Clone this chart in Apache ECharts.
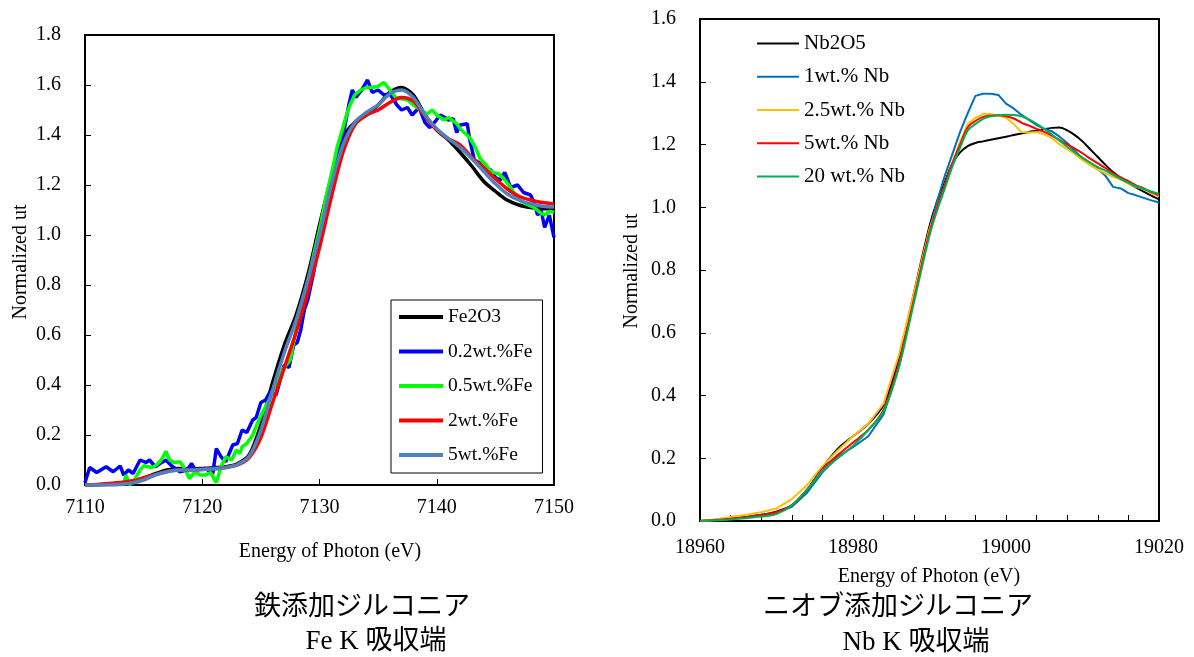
<!DOCTYPE html>
<html>
<head>
<meta charset="utf-8">
<script src="https://cdn.jsdelivr.net/npm/echarts/dist/echarts.min.js"></script>
<style>
  html, body { margin: 0; padding: 0; background: #fff; }
  #main { width: 1194px; height: 657px; }
</style>
</head>
<body>
<div id="main"></div>
<script>
// Fe K edge (left)
var feE = [7110, 7111, 7112, 7113, 7114, 7115, 7116, 7117, 7118, 7119,
  7120, 7121, 7122, 7123, 7124, 7125, 7126, 7127, 7128, 7129,
  7130, 7131, 7132, 7133, 7134, 7135, 7136, 7137, 7138, 7139,
  7140, 7141, 7142, 7143, 7144, 7145, 7146, 7147, 7148, 7149, 7150]
var fe2o3 = [0.0, 0.0, 0.003, 0.008, 0.015, 0.028, 0.045, 0.06, 0.066, 0.064,
  0.066, 0.069, 0.073, 0.085, 0.12, 0.24, 0.41, 0.56, 0.68, 0.84,
  1.04, 1.23, 1.39, 1.45, 1.48, 1.52, 1.57, 1.59, 1.56, 1.48,
  1.42, 1.38, 1.33, 1.275, 1.215, 1.175, 1.14, 1.12, 1.11, 1.105, 1.105]
var fe2wt = [0.0, 0.002, 0.006, 0.01, 0.016, 0.028, 0.042, 0.054, 0.06, 0.06,
  0.062, 0.065, 0.07, 0.08, 0.11, 0.19, 0.33, 0.47, 0.61, 0.77,
  0.95, 1.15, 1.33, 1.44, 1.48, 1.5, 1.53, 1.55, 1.535, 1.475,
  1.42, 1.385, 1.36, 1.31, 1.27, 1.225, 1.185, 1.155, 1.14, 1.13, 1.125]
var fe5wt = [0.0, 0.0, 0.0, 0.002, 0.008, 0.02, 0.04, 0.053, 0.06, 0.06,
  0.062, 0.065, 0.07, 0.082, 0.115, 0.22, 0.38, 0.53, 0.66, 0.82,
  1.0, 1.2, 1.36, 1.45, 1.49, 1.52, 1.565, 1.58, 1.55, 1.48,
  1.425, 1.385, 1.35, 1.305, 1.255, 1.205, 1.165, 1.14, 1.125, 1.115, 1.112]
// noisy spectra as [energy, value]
var fe02wt = [[7110.0, 0.01], [7110.4, 0.07], [7111.0, 0.05], [7111.8, 0.073], [7112.4, 0.053],
  [7113.0, 0.076], [7113.3, 0.04], [7113.7, 0.06], [7114.1, 0.046], [7114.7, 0.10],
  [7115.2, 0.09], [7115.5, 0.10], [7116.0, 0.073], [7116.4, 0.086], [7116.9, 0.10],
  [7117.4, 0.076], [7118.1, 0.053], [7118.7, 0.06], [7119.1, 0.086], [7119.4, 0.06],
  [7120.3, 0.066], [7120.9, 0.046], [7121.2, 0.146], [7121.6, 0.113], [7122.0, 0.093],
  [7122.6, 0.16], [7123.0, 0.166], [7123.4, 0.22], [7123.8, 0.21], [7124.3, 0.26],
  [7124.6, 0.27], [7125.0, 0.33], [7125.4, 0.34], [7125.8, 0.375], [7126.3, 0.36],
  [7126.7, 0.43], [7127.0, 0.48], [7127.4, 0.47], [7127.8, 0.56], [7128.1, 0.57],
  [7128.4, 0.62], [7128.7, 0.70], [7129.0, 0.74], [7129.5, 0.85], [7130.1, 1.01],
  [7130.5, 1.09], [7131.0, 1.17], [7131.3, 1.25], [7131.6, 1.33], [7132.1, 1.42],
  [7132.5, 1.52], [7132.8, 1.58], [7133.1, 1.55], [7133.6, 1.58], [7134.1, 1.62],
  [7134.5, 1.57], [7135.0, 1.58], [7135.5, 1.56], [7136.0, 1.565], [7136.6, 1.52],
  [7137.0, 1.50], [7137.5, 1.51], [7137.9, 1.48], [7138.5, 1.51], [7139.0, 1.45],
  [7139.4, 1.43], [7139.8, 1.45], [7140.3, 1.48], [7140.7, 1.47], [7141.0, 1.46],
  [7141.4, 1.465], [7141.7, 1.41], [7142.0, 1.44], [7142.6, 1.445], [7142.8, 1.385],
  [7143.2, 1.30], [7143.6, 1.29], [7144.0, 1.27], [7144.6, 1.26], [7145.0, 1.23],
  [7145.4, 1.22], [7145.8, 1.25], [7146.3, 1.19], [7146.9, 1.20], [7147.4, 1.17],
  [7148.0, 1.16], [7148.3, 1.13], [7148.6, 1.08], [7148.9, 1.10], [7149.2, 1.03],
  [7149.6, 1.08], [7150.0, 0.99]]
var fe05wt = [[7110.7, 0.0], [7111.5, 0.002], [7112.5, 0.003], [7113.3, 0.004], [7113.5, 0.04],
  [7113.8, 0.0], [7114.2, 0.02], [7114.7, 0.06], [7115.0, 0.077], [7115.7, 0.07],
  [7116.1, 0.08], [7116.5, 0.10], [7116.9, 0.135], [7117.2, 0.10], [7117.6, 0.09],
  [7118.1, 0.093], [7118.5, 0.066], [7118.9, 0.026], [7119.4, 0.053], [7119.8, 0.04],
  [7120.3, 0.04], [7120.7, 0.05], [7121.2, 0.01], [7121.6, 0.073], [7122.0, 0.113],
  [7122.5, 0.10], [7122.9, 0.14], [7123.2, 0.126], [7123.4, 0.153], [7123.8, 0.166],
  [7124.3, 0.20], [7124.7, 0.246], [7125.1, 0.286], [7125.7, 0.34], [7126.5, 0.43],
  [7127.0, 0.47], [7127.5, 0.50], [7128.0, 0.62], [7128.5, 0.70], [7129.0, 0.81],
  [7129.5, 0.92], [7130.0, 1.02], [7130.5, 1.14], [7131.0, 1.24], [7131.5, 1.35],
  [7132.0, 1.43], [7132.3, 1.48], [7132.6, 1.52], [7133.0, 1.56], [7133.5, 1.58],
  [7134.0, 1.59], [7134.5, 1.59], [7135.0, 1.595], [7135.5, 1.61], [7136.0, 1.58],
  [7136.5, 1.55], [7137.0, 1.545], [7137.5, 1.54], [7138.0, 1.52], [7138.5, 1.505],
  [7139.0, 1.49], [7139.2, 1.485], [7139.6, 1.50], [7140.0, 1.48], [7140.6, 1.46],
  [7141.0, 1.47], [7141.3, 1.46], [7141.7, 1.445], [7142.1, 1.42], [7142.8, 1.39],
  [7143.3, 1.35], [7143.7, 1.305], [7144.2, 1.28], [7144.5, 1.26], [7144.8, 1.25],
  [7145.3, 1.245], [7145.8, 1.22], [7146.3, 1.19], [7146.8, 1.15], [7147.2, 1.135],
  [7147.8, 1.12], [7148.3, 1.11], [7148.8, 1.09], [7149.2, 1.08], [7149.6, 1.095],
  [7150.0, 1.09]]

// Nb K edge (right)
var nbE = [18960, 18962, 18964, 18966, 18968, 18970, 18972, 18974, 18976, 18978,
  18980, 18982, 18984, 18986, 18988,
  18990, 18991, 18992, 18993, 18994, 18995, 18996, 18997, 18998, 18999,
  19000, 19001, 19002, 19003, 19004, 19005, 19006, 19007, 19008, 19009,
  19010, 19011, 19012, 19013, 19014, 19015, 19016, 19017, 19018, 19019, 19020]
var nb2o5 = [0.0, 0.004, 0.008, 0.013, 0.02, 0.03, 0.05, 0.1, 0.17, 0.23,
  0.27, 0.31, 0.37, 0.52, 0.73,
  0.94, 1.02, 1.08, 1.14, 1.175, 1.195, 1.205, 1.21, 1.215, 1.22,
  1.225, 1.23, 1.235, 1.24, 1.244, 1.249, 1.253, 1.254, 1.245, 1.23,
  1.21, 1.185, 1.16, 1.135, 1.112, 1.093, 1.077, 1.063, 1.05, 1.037, 1.025]
var nb1wt = [0.0, 0.002, 0.006, 0.012, 0.02, 0.025, 0.045, 0.09, 0.155, 0.205,
  0.235, 0.27, 0.34, 0.49, 0.71,
  0.93, 1.02, 1.10, 1.17, 1.24, 1.30, 1.355, 1.362, 1.362, 1.358,
  1.33, 1.315, 1.295, 1.278, 1.262, 1.25, 1.242, 1.225, 1.205, 1.18,
  1.155, 1.135, 1.122, 1.10, 1.065, 1.06, 1.045, 1.038, 1.03, 1.022, 1.015]
var nb25wt = [0.0, 0.005, 0.013, 0.02, 0.028, 0.04, 0.07, 0.115, 0.175, 0.225,
  0.27, 0.31, 0.375, 0.53, 0.73,
  0.93, 1.0, 1.07, 1.14, 1.21, 1.265, 1.285, 1.297, 1.297, 1.292,
  1.285, 1.265, 1.24, 1.238, 1.24, 1.232, 1.22, 1.20, 1.185, 1.17,
  1.15, 1.135, 1.12, 1.108, 1.097, 1.088, 1.075, 1.065, 1.058, 1.045, 1.035]
var nb5wt = [0.0, 0.003, 0.007, 0.012, 0.018, 0.028, 0.05, 0.10, 0.165, 0.21,
  0.25, 0.29, 0.355, 0.50, 0.71,
  0.92, 1.0, 1.07, 1.14, 1.20, 1.255, 1.275, 1.288, 1.292, 1.293,
  1.29, 1.283, 1.27, 1.26, 1.25, 1.24, 1.228, 1.214, 1.20, 1.187,
  1.172, 1.155, 1.14, 1.125, 1.108, 1.095, 1.083, 1.07, 1.06, 1.048, 1.038]
var nb20wt = [0.0, 0.002, 0.005, 0.009, 0.014, 0.022, 0.05, 0.10, 0.16, 0.20,
  0.24, 0.29, 0.35, 0.49, 0.70,
  0.91, 0.99, 1.06, 1.13, 1.19, 1.245, 1.265, 1.282, 1.29, 1.293,
  1.295, 1.294, 1.29, 1.28, 1.266, 1.25, 1.232, 1.212, 1.193, 1.175,
  1.158, 1.142, 1.128, 1.117, 1.103, 1.09, 1.078, 1.067, 1.058, 1.05, 1.043]

var feNames = ['Fe2O3', '0.2wt.%Fe', '0.5wt.%Fe', '2wt.%Fe', '5wt.%Fe']
var nbNames = ['Nb2O5', '1wt.% Nb', '2.5wt.% Nb', '5wt.% Nb', '20 wt.% Nb']

function zip (xs, ys) {
  return xs.map(function (x, i) { return [x, ys[i]] })
}

var serif = "'Liberation Serif', 'Times New Roman', serif"
var jpFont = "'Liberation Serif', 'Noto Sans CJK JP', serif"

function xAxisOf (grid, min, max, interval, margin, minor) {
  return {
    type: 'value', gridIndex: grid, min: min, max: max, interval: interval,
    axisLine: { show: true, lineStyle: { color: '#000', width: 2 } },
    axisTick: { show: true, inside: true, length: 6, lineStyle: { color: '#000', width: 1 } },
    minorTick: { show: minor, splitNumber: 5, length: 6, lineStyle: { color: '#000', width: 1 } },
    axisLabel: {
      color: '#000', fontFamily: serif, fontSize: 20, margin: margin,
      formatter: function (v) { return String(v) }
    },
    splitLine: { show: false }
  }
}
function yAxisOf (grid, max) {
  return {
    type: 'value', gridIndex: grid, min: 0, max: max, interval: 0.2,
    axisLine: { show: true, lineStyle: { color: '#000', width: 2 } },
    axisTick: { show: true, inside: true, length: 6, lineStyle: { color: '#000', width: 1 } },
    axisLabel: {
      color: '#000', fontFamily: serif, fontSize: 20, margin: 24,
      formatter: function (v) { return v.toFixed(1) }
    },
    splitLine: { show: false }
  }
}
function line (name, data, color, width, axis, smooth) {
  return {
    name: name, type: 'line', data: data, xAxisIndex: axis, yAxisIndex: axis,
    showSymbol: false, symbol: 'none', smooth: smooth, z: 2,
    itemStyle: { color: color },
    lineStyle: { color: color, width: width }
  }
}
function label (x, y, text, size, rot, font) {
  return {
    type: 'text', x: x, y: y, rotation: rot || 0, silent: true,
    style: {
      text: text, fill: '#000', font: size + 'px ' + (font || serif),
      textAlign: 'center', textVerticalAlign: 'middle', align: 'center', verticalAlign: 'middle'
    }
  }
}

var chart = echarts.init(document.getElementById('main'))
chart.setOption({
  animation: false,
  backgroundColor: '#fff',
  grid: [
    { left: 85, top: 35, width: 469, height: 450, show: true, borderColor: '#000', borderWidth: 2 },
    { left: 700, top: 19, width: 459, height: 502, show: true, borderColor: '#000', borderWidth: 2 }
  ],
  xAxis: [xAxisOf(0, 7110, 7150, 10, 13, false), xAxisOf(1, 18960, 19020, 20, 17, true)],
  yAxis: [yAxisOf(0, 1.8), yAxisOf(1, 1.6)],
  legend: [
    {
      data: feNames, orient: 'vertical', left: 391, top: 300, selectedMode: false,
      icon: 'rect', itemWidth: 44, itemHeight: 4, itemGap: 14.5,
      padding: [7, 10, 8, 8], borderColor: '#000', borderWidth: 1, backgroundColor: '#fff',
      textStyle: { fontFamily: serif, fontSize: 19.5, color: '#000', lineHeight: 20 }
    },
    {
      data: nbNames, orient: 'vertical', left: 757, top: 33, selectedMode: false,
      icon: 'rect', itemWidth: 42, itemHeight: 2, itemGap: 12.25, padding: 0,
      textStyle: { fontFamily: serif, fontSize: 21, color: '#000', lineHeight: 20 }
    }
  ],
  series: [
    line(feNames[0], zip(feE, fe2o3), '#000000', 3.5, 0, 0.3),
    line(feNames[1], fe02wt, '#0000ff', 3.5, 0, false),
    line(feNames[2], fe05wt, '#00ff00', 3.5, 0, false),
    line(feNames[3], zip(feE, fe2wt), '#ff0000', 3.5, 0, 0.3),
    line(feNames[4], zip(feE, fe5wt), '#4f81bd', 3.5, 0, 0.3),
    line(nbNames[0], zip(nbE, nb2o5), '#000000', 2, 1, 0.3),
    line(nbNames[1], zip(nbE, nb1wt), '#0070c0', 2, 1, false),
    line(nbNames[2], zip(nbE, nb25wt), '#ffc000', 2, 1, false),
    line(nbNames[3], zip(nbE, nb5wt), '#ff0000', 2, 1, 0.3),
    line(nbNames[4], zip(nbE, nb20wt), '#00b050', 2, 1, 0.3)
  ],
  graphic: [
    label(330, 552, 'Energy of Photon (eV)', 20),
    label(929, 577, 'Energy of Photon (eV)', 20),
    label(21, 262, 'Normalized ut', 20, Math.PI / 2),
    label(632, 271, 'Normalized ut', 20, Math.PI / 2),
    label(362, 608, '鉄添加ジルコニア', 27, 0, jpFont),
    label(376, 642, 'Fe K 吸収端', 27, 0, jpFont),
    label(898, 608, 'ニオブ添加ジルコニア', 27, 0, jpFont),
    label(916, 643, 'Nb K 吸収端', 27, 0, jpFont)
  ]
})
</script>
</body>
</html>
